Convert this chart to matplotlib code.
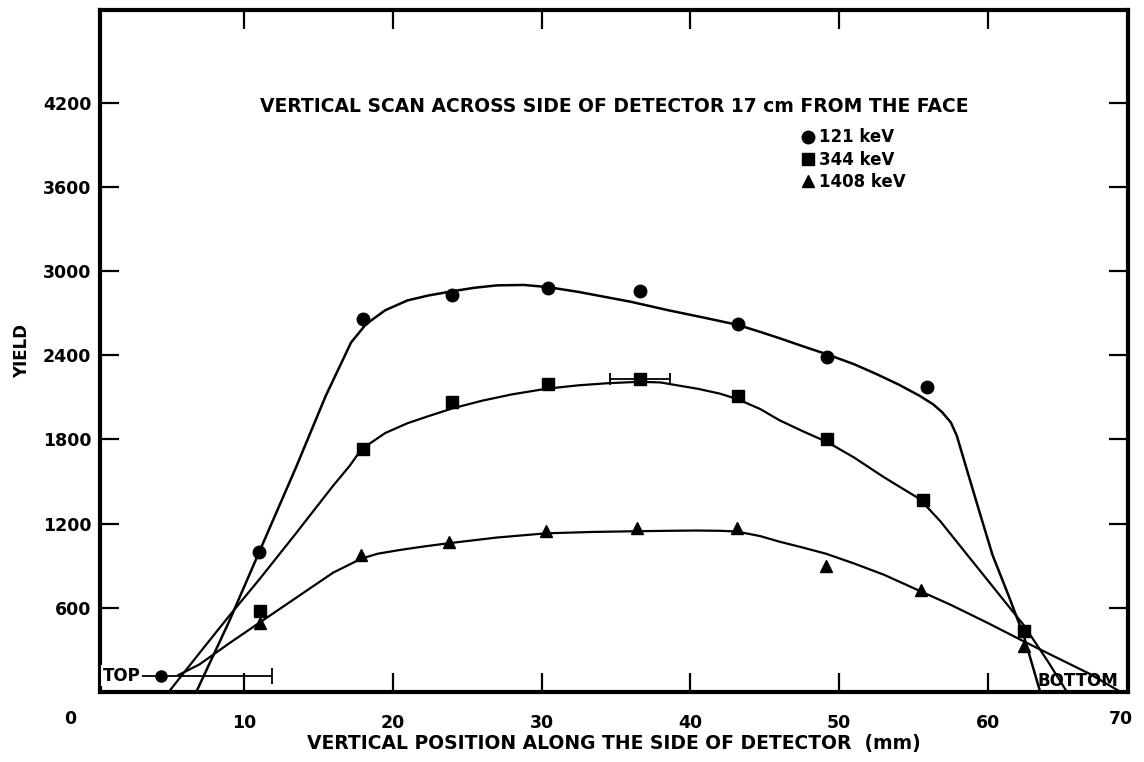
import matplotlib.pyplot as plt

x_121 = [11.0, 18.0, 24.0, 30.4, 36.6, 43.2, 49.2, 55.9]
y_121 = [1000, 2660, 2830, 2875, 2855, 2625, 2385, 2170]

x_344 = [11.1, 18.0, 24.0, 30.4, 36.6, 43.2, 49.2, 55.6, 62.4]
y_344 = [575, 1730, 2065, 2195, 2230, 2110, 1805, 1365, 435]

x_1408 = [11.1, 17.9, 23.8, 30.3, 36.4, 43.1, 49.1, 55.5, 62.4]
y_1408 = [490, 975, 1070, 1150, 1170, 1165, 900, 725, 330]

# hand drawn curves through the points
cx_121 = [6.8, 9.0, 11.0, 13.5, 15.5, 17.2, 18.2, 19.5, 21.0, 22.4, 24.0, 25.5, 27.0, 28.8,
          30.4, 32.5, 34.5, 36.0, 38.5, 41.0, 43.2, 44.7, 46.0, 47.5, 49.2, 51.0, 52.5, 54.0,
          55.4, 56.3, 56.9, 57.5, 57.9, 58.5, 59.4, 60.3, 61.4, 62.4, 63.5]
cy_121 = [0, 500, 990, 1600, 2110, 2490, 2620, 2720, 2790, 2825, 2855, 2880, 2897, 2900,
          2885, 2850, 2810, 2780, 2720, 2665, 2615, 2565, 2520, 2465, 2405, 2335, 2265, 2190,
          2110, 2050, 1995, 1920, 1825, 1610, 1290, 975, 680, 400, 0]

cx_344 = [4.95, 7.0, 9.0, 11.1, 13.5, 16.0, 17.1, 17.9, 19.5, 21.0, 22.4, 24.0, 26.0, 28.0,
          30.3, 32.5, 34.5, 36.6, 38.0, 39.1, 40.5, 42.0, 43.2, 44.7, 46.0, 47.5, 49.2, 51.0,
          53.0, 55.4, 56.8, 58.5, 60.5, 62.4, 64.0, 65.3]
cy_344 = [0, 275, 540, 810, 1130, 1470, 1610, 1730, 1845, 1915, 1965, 2020, 2075, 2120,
          2160, 2185, 2200, 2210, 2205, 2185, 2160, 2125, 2085, 2015, 1935, 1860, 1780, 1670,
          1530, 1375, 1215, 990, 726, 475, 220, 0]

cx_1408 = [5.6, 7.0, 9.0, 11.0, 13.5, 16.0, 17.9, 19.0, 20.4, 22.0, 23.8, 27.0, 30.3, 33.5,
           36.4, 38.5, 40.4, 42.0, 43.1, 44.7, 46.0, 47.5, 49.1, 51.0, 53.0, 55.4, 57.5, 60.0,
           62.4, 64.5, 66.8, 68.9]
cy_1408 = [120, 195, 345, 490, 670, 850, 950, 985, 1010, 1035, 1060, 1100, 1130, 1140,
           1145, 1148, 1150, 1148, 1143, 1110, 1070, 1030, 985, 915, 835, 720, 620, 490,
           360, 250, 130, 0]

# TOP point and error bars
top_x, top_y, top_err = 4.4, 115, 7.5
bar_x, bar_y, bar_err = 36.6, 2230, 2.0

xticks = [10, 20, 30, 40, 50, 60]
yticks = [600, 1200, 1800, 2400, 3000, 3600, 4200]

fig = plt.figure(figsize=(11.44, 7.62), dpi=100)
ax = fig.add_axes([0.087, 0.092, 0.899, 0.895])

ax.plot(cx_121, cy_121, color="black", lw=1.8)
ax.plot(cx_344, cy_344, color="black", lw=1.6)
ax.plot(cx_1408, cy_1408, color="black", lw=1.6)

ax.plot(x_121, y_121, "o", color="black", ms=9, label="121 keV")
ax.plot(x_344, y_344, "s", color="black", ms=8, label="344 keV")
ax.plot(x_1408, y_1408, "^", color="black", ms=8, label="1408 keV")

ax.errorbar([top_x], [top_y], xerr=[top_err], fmt="o", color="black", ms=8,
            elinewidth=1.3, capsize=6, capthick=1.3)
ax.errorbar([bar_x], [bar_y], xerr=[bar_err], fmt="none", ecolor="black",
            elinewidth=1.3, capsize=4, capthick=1.3)

ax.set_xlim(0.3, 69.4)
ax.set_ylim(0, 4860)

ax.set_xticks(xticks)
ax.set_yticks(yticks)
ax.tick_params(axis="both", direction="in", length=14, width=1.6,
               top=True, right=True, labelsize=12.5)
ax.tick_params(axis="x", pad=16)
ax.tick_params(axis="y", pad=6)
for lab in ax.get_xticklabels() + ax.get_yticklabels():
    lab.set_fontweight("bold")
for sp in ax.spines.values():
    sp.set_linewidth(3)

# end labels sit off the axis in the original
ax.text(-1.65, -190, "0", ha="center", va="center", fontsize=12.5, fontweight="bold",
        clip_on=False)
ax.text(68.9, -190, "70", ha="center", va="center", fontsize=12.5, fontweight="bold",
        clip_on=False)

ax.set_xlabel("VERTICAL POSITION ALONG THE SIDE OF DETECTOR  (mm)", fontsize=13.5,
              fontweight="bold", labelpad=1)
ax.set_ylabel("YIELD", fontsize=12, fontweight="bold", labelpad=8)

ax.text(34.9, 4170, "VERTICAL SCAN ACROSS SIDE OF DETECTOR 17 cm FROM THE FACE",
        ha="center", va="center", fontsize=13.5, fontweight="bold")

ax.text(0.5, 115, "TOP", ha="left", va="center", fontsize=12, fontweight="bold",
        bbox=dict(facecolor="white", edgecolor="none", pad=1), zorder=5)
ax.text(66.0, 80, "BOTTOM", ha="center", va="center", fontsize=12, fontweight="bold",
        zorder=5)

leg = ax.legend(loc="upper left", bbox_to_anchor=(0.677, 0.836), frameon=False,
                handlelength=0.7, handletextpad=0.3, labelspacing=0.25,
                borderaxespad=0, prop={"weight": "bold", "size": 12})

plt.savefig("out.png", dpi=100)
